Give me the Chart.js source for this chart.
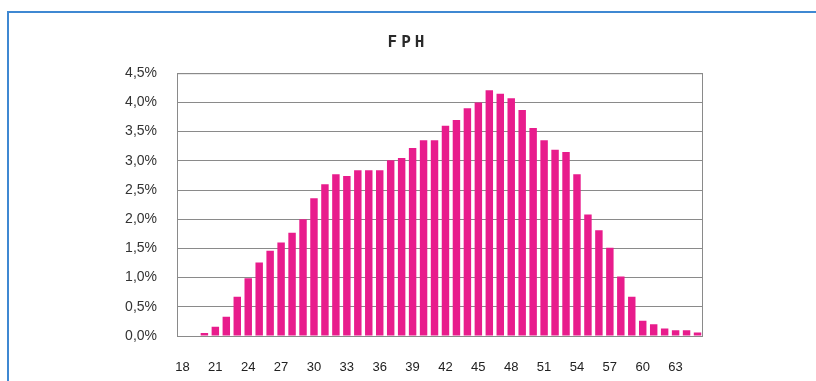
<!DOCTYPE html>
<html>
<head>
<meta charset="utf-8">
<script src="https://cdn.jsdelivr.net/npm/chart.js@4/dist/chart.umd.min.js"></script>
<style>
  html, body { margin: 0; padding: 0; background: #fff; }
  #wrap { position: relative; width: 816px; height: 381px; overflow: hidden; }
  #frame { position: absolute; left: 7px; top: 11px; width: 820px; height: 400px;
           border-left: 2px solid #3f88d2; border-top: 2px solid #3f88d2; }
  #box { position: absolute; left: 0; top: 0; width: 816px; height: 381px; }
</style>
</head>
<body>
<div id="wrap">
  <div id="frame"></div>
  <div id="box"><canvas id="canvasA"></canvas></div>
</div>
<script>
  // ages 18..65
  var ages = [18, 19, 20, 21, 22, 23, 24, 25, 26, 27, 28, 29, 30, 31, 32, 33,
              34, 35, 36, 37, 38, 39, 40, 41, 42, 43, 44, 45, 46, 47, 48, 49,
              50, 51, 52, 53, 54, 55, 56, 57, 58, 59, 60, 61, 62, 63, 64, 65];
  // share in percent
  var shares = [0, 0, 0.05, 0.16, 0.33, 0.67, 0.99, 1.26, 1.46, 1.60, 1.77, 2.00,
                2.36, 2.60, 2.77, 2.74, 2.84, 2.84, 2.84, 3.01, 3.05, 3.22, 3.35, 3.35,
                3.60, 3.70, 3.90, 4.00, 4.21, 4.15, 4.07, 3.87, 3.56, 3.35, 3.19, 3.15,
                2.77, 2.08, 1.81, 1.51, 1.02, 0.67, 0.26, 0.20, 0.13, 0.10, 0.10, 0.06];
  var yTicks = [0, 0.5, 1, 1.5, 2, 2.5, 3, 3.5, 4, 4.5];
  var tickEvery = 3;

  var plotBorder = {
    id: 'plotBorder',
    afterDraw: function (chart) {
      var a = chart.chartArea, c = chart.ctx;
      c.save();
      c.strokeStyle = '#8a8a8a';
      c.lineWidth = 1;
      c.strokeRect(a.left + 0.5, a.top + 0.5, a.right - a.left - 1, a.bottom - a.top);
      c.restore();
    }
  };

  // spaced-out title letters
  var titleSpacing = {
    id: 'titleSpacing',
    afterLayout: function (chart) {
      var tb = chart.titleBlock;
      if (tb && !tb._spaced) {
        var d = tb.draw.bind(tb);
        tb.draw = function () {
          chart.ctx.save();
          chart.ctx.letterSpacing = '4px';
          d();
          chart.ctx.restore();
        };
        tb._spaced = true;
      }
    }
  };

  var ctx = document.getElementById('canvasA').getContext('2d');
  var fph = new Chart(ctx, {
    type: 'bar',
    data: {
      labels: ages,
      datasets: [{
        label: 'FPH',
        data: shares,
        backgroundColor: '#e81c8c',
        borderWidth: 0,
        categoryPercentage: 1,
        barPercentage: 0.68
      }]
    },
    options: {
      responsive: true,
      maintainAspectRatio: false,
      animation: false,
      layout: { padding: 0 },
      plugins: {
        legend: { display: false },
        tooltip: { enabled: false },
        title: {
          display: true,
          text: 'FPH',
          color: '#2a2a2a',
          font: { family: 'DejaVu Sans Mono', size: 16, weight: 'bold', lineHeight: 1.2 },
          padding: { top: 33, bottom: 21 }
        }
      },
      scales: {
        x: {
          grid: { display: false },
          border: { display: false },
          afterFit: function (s) { s.height = 45; },
          ticks: {
            autoSkip: false,
            maxRotation: 0,
            padding: 16,
            color: '#222',
            font: { family: 'Liberation Sans', size: 13 },
            callback: function (v, i) {
              return (ages[i] - ages[0]) % tickEvery === 0 ? String(ages[i]) : '';
            }
          }
        },
        y: {
          min: 0,
          max: 4.5,
          afterFit: function (s) { s.width = 177; },
          afterBuildTicks: function (s) {
            s.ticks = yTicks.map(function (v) { return { value: v }; });
          },
          border: { display: false },
          grid: { color: '#8a8a8a', lineWidth: 1, drawTicks: false },
          ticks: {
            padding: 20,
            color: '#333',
            font: { family: 'Liberation Sans', size: 14 },
            callback: function (v) { return v.toFixed(1).replace('.', ',') + '%'; }
          }
        },
        // empty right axis, only to keep room on the right
        yRight: {
          position: 'right',
          min: 0,
          max: 4.5,
          afterFit: function (s) { s.width = 113; },
          grid: { display: false },
          border: { display: false },
          ticks: { display: false }
        }
      }
    },
    plugins: [plotBorder, titleSpacing]
  });
</script>
</body>
</html>
